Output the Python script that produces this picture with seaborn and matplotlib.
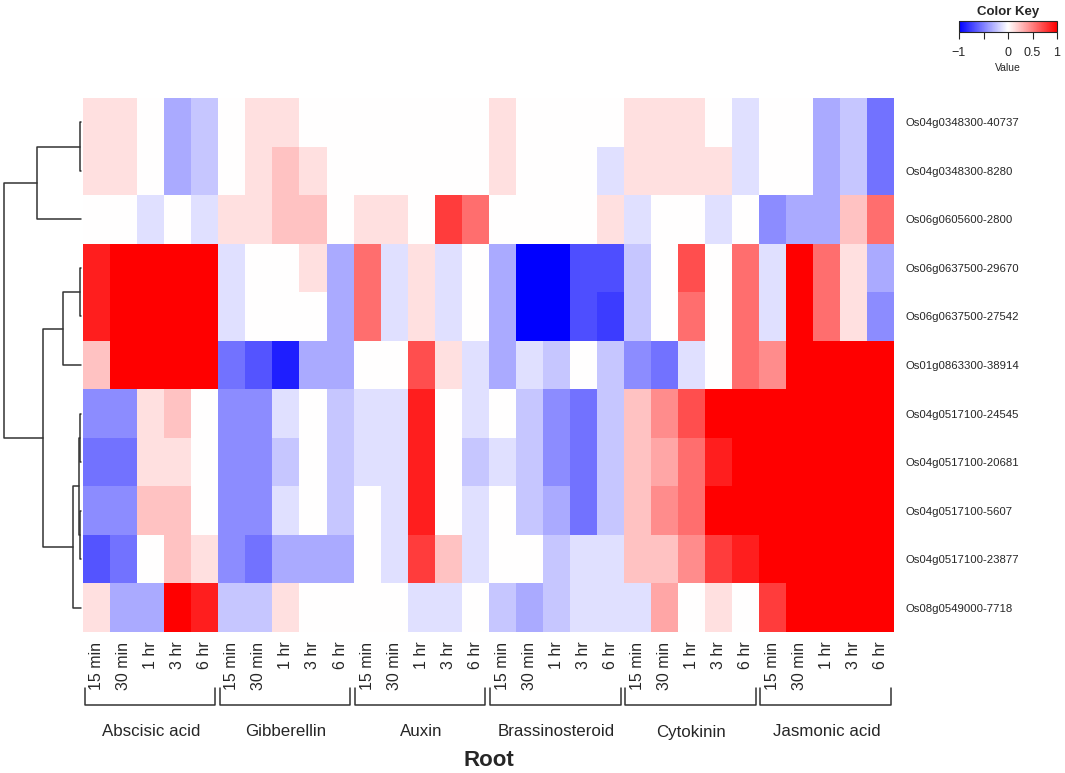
import numpy as np
import pandas as pd
import seaborn as sns
import matplotlib.pyplot as plt
import matplotlib.transforms as mtransforms
from matplotlib.cm import ScalarMappable
from matplotlib.colors import Normalize

genes = ["Os04g0348300-40737", "Os04g0348300-8280", "Os06g0605600-2800",
         "Os06g0637500-29670", "Os06g0637500-27542", "Os01g0863300-38914",
         "Os04g0517100-24545", "Os04g0517100-20681", "Os04g0517100-5607",
         "Os04g0517100-23877", "Os08g0549000-7718"]
times = ["15 min", "30 min", "1 hr", "3 hr", "6 hr"]
hormones = ["Abscisic acid", "Gibberellin", "Auxin", "Brassinosteroid",
            "Cytokinin", "Jasmonic acid"]

# values per hormone, rows = genes (top to bottom), cols = time points
abscisic = [[0.12, 0.12, 0, -0.33, -0.22],
            [0.12, 0.12, 0, -0.33, -0.22],
            [0, 0, -0.12, 0, -0.12],
            [0.88, 1, 1, 1, 1],
            [0.88, 1, 1, 1, 1],
            [0.24, 1, 1, 1, 1],
            [-0.45, -0.45, 0.12, 0.24, 0],
            [-0.55, -0.55, 0.12, 0.12, 0],
            [-0.45, -0.45, 0.24, 0.24, 0],
            [-0.67, -0.55, 0, 0.24, 0.12],
            [0.12, -0.33, -0.33, 1, 0.88]]
gibberellin = [[0, 0.12, 0.12, 0, 0],
               [0, 0.12, 0.24, 0.12, 0],
               [0.12, 0.12, 0.24, 0.24, 0],
               [-0.12, 0, 0, 0.12, -0.33],
               [-0.12, 0, 0, 0, -0.33],
               [-0.55, -0.67, -0.88, -0.33, -0.33],
               [-0.45, -0.45, -0.12, 0, -0.22],
               [-0.45, -0.45, -0.22, 0, -0.22],
               [-0.45, -0.45, -0.12, 0, -0.22],
               [-0.45, -0.55, -0.33, -0.33, -0.33],
               [-0.22, -0.22, 0.12, 0, 0]]
auxin = [[0, 0, 0, 0, 0],
         [0, 0, 0, 0, 0],
         [0.12, 0.12, 0, 0.76, 0.57],
         [0.57, -0.12, 0.12, -0.12, 0],
         [0.57, -0.12, 0.12, -0.12, 0],
         [0, 0, 0.69, 0.12, -0.12],
         [-0.12, -0.12, 0.88, 0, -0.12],
         [-0.12, -0.12, 0.88, 0, -0.22],
         [0, -0.12, 0.88, 0, -0.12],
         [0, -0.12, 0.76, 0.24, -0.12],
         [0, 0, -0.12, -0.12, 0]]
brassinosteroid = [[0.12, 0, 0, 0, 0],
                   [0.12, 0, 0, 0, -0.12],
                   [0, 0, 0, 0, 0.12],
                   [-0.33, -1, -1, -0.69, -0.69],
                   [-0.33, -1, -1, -0.69, -0.76],
                   [-0.33, -0.12, -0.22, 0, -0.22],
                   [0, -0.22, -0.45, -0.55, -0.22],
                   [-0.12, -0.22, -0.45, -0.55, -0.22],
                   [0, -0.22, -0.33, -0.55, -0.22],
                   [0, 0, -0.22, -0.12, -0.12],
                   [-0.22, -0.33, -0.22, -0.12, -0.12]]
cytokinin = [[0.12, 0.12, 0.12, 0, -0.12],
             [0.12, 0.12, 0.12, 0.12, -0.12],
             [-0.12, 0, 0, -0.12, 0],
             [-0.22, 0, 0.69, 0, 0.57],
             [-0.22, 0, 0.57, 0, 0.57],
             [-0.45, -0.55, -0.12, 0, 0.57],
             [0.24, 0.45, 0.69, 1, 1],
             [0.24, 0.35, 0.57, 0.88, 1],
             [0.24, 0.45, 0.57, 1, 1],
             [0.24, 0.24, 0.45, 0.76, 0.88],
             [-0.12, 0.35, 0, 0.12, 0]]
jasmonic = [[0, 0, -0.33, -0.22, -0.55],
            [0, 0, -0.33, -0.22, -0.55],
            [-0.45, -0.33, -0.33, 0.24, 0.57],
            [-0.12, 1, 0.57, 0.12, -0.33],
            [-0.12, 1, 0.57, 0.12, -0.45],
            [0.45, 1, 1, 1, 1],
            [1, 1, 1, 1, 1],
            [1, 1, 1, 1, 1],
            [1, 1, 1, 1, 1],
            [1, 1, 1, 1, 1],
            [0.76, 1, 1, 1, 1]]

# row dendrogram: (left id, right id, height); new clusters numbered from 11
row_linkage = [(0, 1, 0.01), (3, 4, 0.01), (6, 7, 0.007), (8, 9, 0.013),
               (13, 14, 0.02), (15, 10, 0.10), (12, 5, 0.23), (11, 2, 0.57),
               (17, 16, 0.49), (18, 19, 1.0)]

blocks = [abscisic, gibberellin, auxin, brassinosteroid, cytokinin, jasmonic]
values = np.hstack([np.array(b) for b in blocks])
cols = [t for h in hormones for t in times]
df = pd.DataFrame(values, index=genes, columns=range(len(cols)))

sns.set_style("white")
plt.rcParams['font.family'] = ['Liberation Sans', 'DejaVu Sans']

W, H = 1065, 773
fig = plt.figure(figsize=(W / 100, H / 100), dpi=100)

hx0, hx1, hy0, hy1 = 83.3, 894, 98, 632
ax = fig.add_axes([hx0 / W, 1 - hy1 / H, (hx1 - hx0) / W, (hy1 - hy0) / H])
sns.heatmap(df, ax=ax, cmap="bwr", vmin=-1, vmax=1, cbar=False,
            xticklabels=cols, yticklabels=genes)
ax.yaxis.tick_right()
ax.tick_params(axis='y', length=0, pad=8, labelsize=8.2, rotation=0)
ax.tick_params(axis='x', length=0, pad=7, labelsize=11.5)
for lab in ax.get_xticklabels():
    lab.set_rotation(90)
    lab.set_ha('center')
    lab.set_va('top')
ax.set_xlabel("")
ax.set_ylabel("")

# group brackets and names under the column labels
trans = mtransforms.blended_transform_factory(ax.transData, fig.transFigure)
yt, yb = 1 - 688 / H, 1 - 705 / H
n = len(times)
for i, h in enumerate(hormones):
    x0, x1 = i * n + 0.05, (i + 1) * n - 0.12
    ax.plot([x0, x0, x1, x1], [yt, yb, yb, yt], color='#333333', lw=1.1,
            transform=trans, clip_on=False)
    ax.text((i * n + (i + 1) * n) / 2, 1 - 732 / H, h, transform=trans,
            ha='center', va='center', fontsize=12.2)
ax.text(len(cols) / 2, 1 - 761 / H, "Root", transform=trans, ha='center',
        va='center', fontsize=16, fontweight='bold')

# dendrogram
dx0, dx1 = 4, 80.7
dax = fig.add_axes([dx0 / W, 1 - hy1 / H, (dx1 - dx0) / W, (hy1 - hy0) / H])
pos = {i: i + 0.5 for i in range(len(genes))}
hgt = {i: 0.0 for i in range(len(genes))}
for k, (a, b, hh) in enumerate(row_linkage):
    dax.plot([hgt[a], hh, hh, hgt[b]], [pos[a], pos[a], pos[b], pos[b]],
             color='#333333', lw=1.1, clip_on=False)
    nid = len(genes) + k
    pos[nid] = (pos[a] + pos[b]) / 2
    hgt[nid] = hh
dax.set_xlim(1.0, 0)
dax.set_ylim(len(genes), 0)
dax.axis('off')

# color key
cax = fig.add_axes([959 / W, 1 - 32 / H, 98 / W, 11 / H])
cb = fig.colorbar(ScalarMappable(norm=Normalize(-1, 1), cmap='bwr'), cax=cax,
                  orientation='horizontal', ticks=[-1, -0.5, 0, 0.5, 1])
cb.ax.set_xticklabels(['\u22121', '', '0', '0.5', '1'])
cb.outline.set_linewidth(0.8)
cax.tick_params(axis='x', length=5, width=0.8, labelsize=9, pad=6)
cax.set_xlabel("Value", fontsize=7.5, labelpad=3)
cax.set_title("Color Key", fontsize=9.5, fontweight='bold', pad=4)

fig.savefig("out.png", dpi=100)
